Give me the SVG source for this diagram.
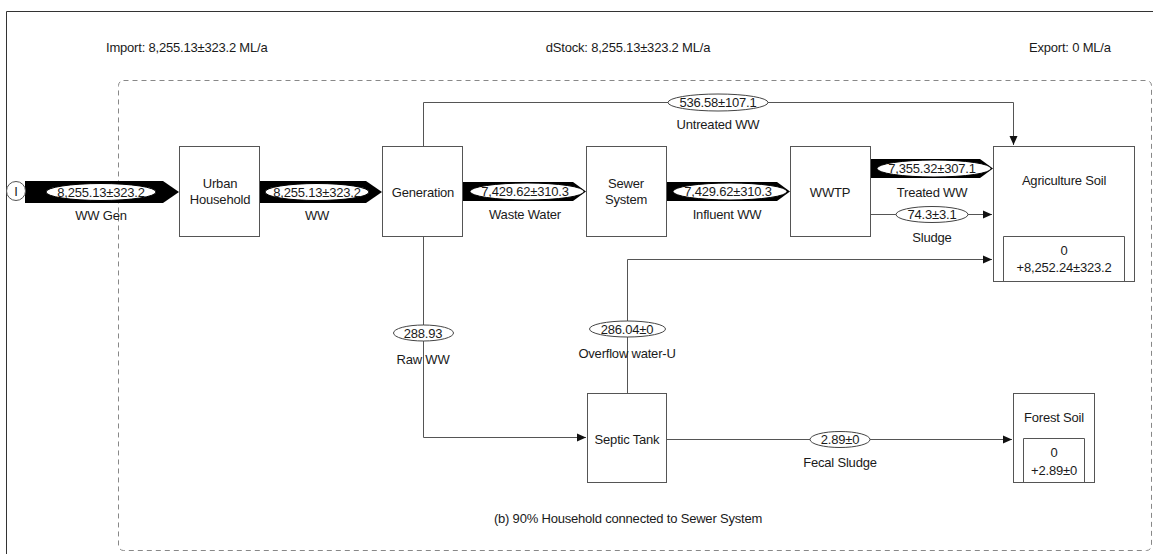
<svg xmlns="http://www.w3.org/2000/svg" width="1153" height="554" viewBox="0 0 1153 554">
<defs>
<marker id="ah" markerWidth="10" markerHeight="10" refX="9" refY="5" orient="auto" markerUnits="userSpaceOnUse">
<path d="M0,1 L9,5 L0,9 Z" fill="#111"/>
</marker>
<style>
text{font-family:"Liberation Sans",Arial,sans-serif;font-size:13px;fill:#1a1a1a;text-anchor:middle;letter-spacing:-0.2px}
.st{text-anchor:start}
.box{fill:#fff;stroke:#555;stroke-width:1}
.line{fill:none;stroke:#555;stroke-width:1}
.flow{fill:#000}
.fe{fill:#fff;stroke:#000;stroke-width:1}
.le{fill:#fff;stroke:#444;stroke-width:1}
</style>
</defs>
<rect width="1153" height="554" fill="#fff"/>
<path d="M6.5,554 L6.5,11.5 L1153,11.5" fill="none" stroke="#333" stroke-width="1"/>
<rect x="118.5" y="80.5" width="1033" height="470" rx="5" fill="none" stroke="#888" stroke-width="1" stroke-dasharray="5,4"/>
<text class="st" x="106" y="51.5">Import: 8,255.13±323.2 ML/a</text>
<text x="628" y="51.5">dStock: 8,255.13±323.2 ML/a</text>
<text class="st" x="1029" y="51.5">Export: 0 ML/a</text>
<text x="628" y="522.5">(b) 90% Household connected to Sewer System</text>

<g id="connectors">
<polygon class="flow" points="25,181 163,181 179,192 163,203 25,203"/>
<polygon class="flow" points="260,181 366,181 382,192 366,203 260,203"/>
<polygon class="flow" points="463,182 573,182 586,191.5 573,201 463,201"/>
<polygon class="flow" points="667,182 777,182 790,191.5 777,201 667,201"/>
<polygon class="flow" points="871,159 980,159 993,168.5 980,178 871,178"/>
<path class="line" d="M423.5,146 L423.5,102.5 L1013.5,102.5 L1013.5,145" marker-end="url(#ah)"/>
<path class="line" d="M871,214.5 L992,214.5" marker-end="url(#ah)"/>
<path class="line" d="M627.5,393 L627.5,259.5 L992,259.5" marker-end="url(#ah)"/>
<path class="line" d="M423.5,236 L423.5,437.5 L586,437.5" marker-end="url(#ah)"/>
<path class="line" d="M667,439.5 L1012,439.5" marker-end="url(#ah)"/>
<ellipse class="fe" cx="101" cy="192" rx="55" ry="8.5"/>
<text x="101" y="196.5">8,255.13±323.2</text>
<text x="101" y="219.5">WW Gen</text>
<ellipse class="fe" cx="317" cy="192" rx="52" ry="8.5"/>
<text x="317" y="196.5">8,255.13±323.2</text>
<text x="317" y="219.5">WW</text>
<ellipse class="fe" cx="527" cy="191.5" rx="57" ry="8.5"/>
<text x="525" y="196">7,429.62±310.3</text>
<text x="525" y="218.5">Waste Water</text>
<ellipse class="fe" cx="730" cy="191.5" rx="57" ry="8.5"/>
<text x="728" y="196">7,429.62±310.3</text>
<text x="727" y="218.5">Influent WW</text>
<ellipse class="fe" cx="934" cy="168.5" rx="57" ry="8.5"/>
<text x="932" y="173">7,355.32±307.1</text>
<text x="932" y="196.5">Treated WW</text>
<ellipse class="le" cx="718" cy="102.5" rx="50" ry="8.5"/>
<text x="718" y="107">536.58±107.1</text>
<text x="718" y="128.5">Untreated WW</text>
<ellipse class="le" cx="932" cy="214.5" rx="36" ry="8"/>
<text x="932" y="219">74.3±3.1</text>
<text x="932" y="241.5">Sludge</text>
<ellipse class="le" cx="423.5" cy="333" rx="30" ry="8"/>
<text x="423" y="337.5">288.93</text>
<text x="423" y="363.5">Raw WW</text>
<ellipse class="le" cx="627.5" cy="329" rx="38" ry="8"/>
<text x="627" y="333.5">286.04±0</text>
<text x="627" y="357.5">Overflow water-U</text>
<ellipse class="le" cx="840" cy="439.5" rx="30" ry="8"/>
<text x="840" y="444">2.89±0</text>
<text x="840" y="466.5">Fecal Sludge</text>
</g>

<g id="import">
<circle cx="16" cy="191" r="9.5" fill="#fff" stroke="#555" stroke-width="1"/>
<text x="16" y="195.5">I</text>
</g>
<g id="urban-household">
<rect class="box" x="179.5" y="146.5" width="80" height="90"/>
<text x="220" y="187.5">Urban</text>
<text x="220" y="203.5">Household</text>
</g>
<g id="generation">
<rect class="box" x="382.5" y="146.5" width="80" height="90"/>
<text x="423" y="196.5">Generation</text>
</g>
<g id="sewer-system">
<rect class="box" x="586.5" y="146.5" width="80" height="90"/>
<text x="626" y="187.5">Sewer</text>
<text x="626" y="203.5">System</text>
</g>
<g id="wwtp">
<rect class="box" x="790.5" y="146.5" width="80" height="90"/>
<text x="830" y="196.5">WWTP</text>
</g>
<g id="agriculture-soil">
<rect class="box" x="993.5" y="146.5" width="141" height="135"/>
<path class="line" d="M1003.5,281 L1003.5,236.5 L1124.5,236.5 L1124.5,281"/>
<text x="1064" y="184.5">Agriculture Soil</text>
<text x="1064" y="254.5">0</text>
<text x="1064" y="271.5">+8,252.24±323.2</text>
</g>
<g id="septic-tank">
<rect class="box" x="587.5" y="393.5" width="79" height="89"/>
<text x="627" y="443.5">Septic Tank</text>
</g>
<g id="forest-soil">
<rect class="box" x="1013.5" y="393.5" width="81" height="89"/>
<path class="line" d="M1023.5,483 L1023.5,438.5 L1084.5,438.5 L1084.5,483"/>
<text x="1054" y="421.5">Forest Soil</text>
<text x="1054" y="456.5">0</text>
<text x="1054" y="474.5">+2.89±0</text>
</g>
</svg>
